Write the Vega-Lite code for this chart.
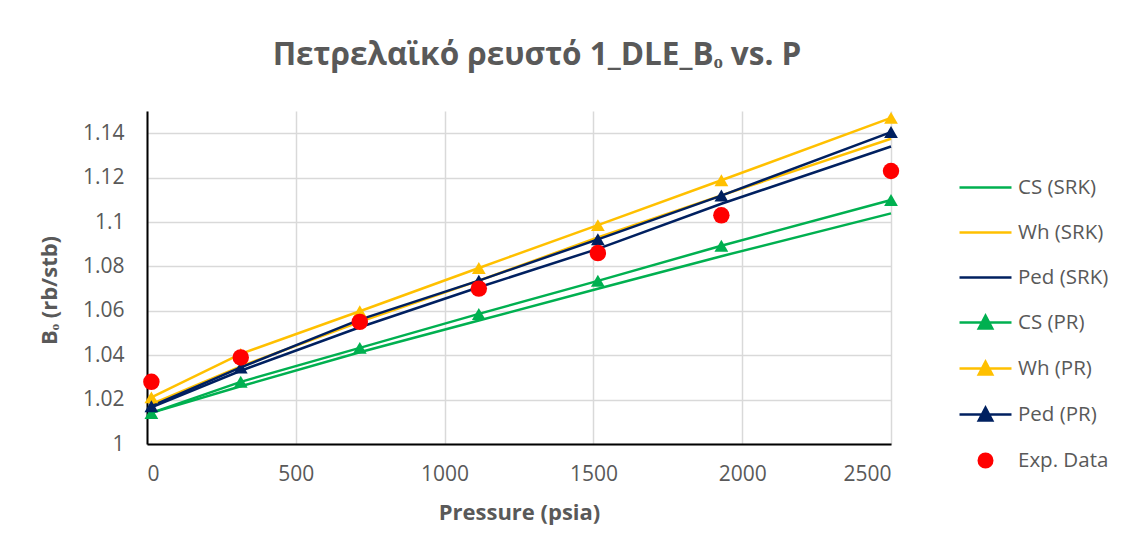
{
  "$schema": "https://vega.github.io/schema/vega-lite/v6.json",
  "width": 744,
  "height": 333,
  "autosize": "none",
  "padding": {"left": 147, "top": 111, "right": 233, "bottom": 114},
  "background": "white",
  "config": {
    "view": {"stroke": null},
    "font": "Open Sans"
  },
  "title": {
    "text": "Πετρελαϊκό ρευστό 1_DLE_Bₒ vs. P",
    "font": "Open Sans",
    "fontSize": 31.5,
    "fontWeight": "bold",
    "color": "#595959",
    "anchor": "middle",
    "frame": "group",
    "dx": 18,
    "offset": 40
  },
  "data": {
    "values": [
      {"P": 14.7, "B": 1.0140, "series": "CS (SRK)"},
      {"P": 315, "B": 1.0260, "series": "CS (SRK)"},
      {"P": 715, "B": 1.0413, "series": "CS (SRK)"},
      {"P": 1115, "B": 1.0556, "series": "CS (SRK)"},
      {"P": 1515, "B": 1.0699, "series": "CS (SRK)"},
      {"P": 1930, "B": 1.0846, "series": "CS (SRK)"},
      {"P": 2500, "B": 1.1039, "series": "CS (SRK)"},
      {"P": 14.7, "B": 1.0180, "series": "Wh (SRK)"},
      {"P": 315, "B": 1.0350, "series": "Wh (SRK)"},
      {"P": 715, "B": 1.0550, "series": "Wh (SRK)"},
      {"P": 1115, "B": 1.0736, "series": "Wh (SRK)"},
      {"P": 1515, "B": 1.0930, "series": "Wh (SRK)"},
      {"P": 1930, "B": 1.1120, "series": "Wh (SRK)"},
      {"P": 2500, "B": 1.1375, "series": "Wh (SRK)"},
      {"P": 14.7, "B": 1.0165, "series": "Ped (SRK)"},
      {"P": 315, "B": 1.0330, "series": "Ped (SRK)"},
      {"P": 715, "B": 1.0526, "series": "Ped (SRK)"},
      {"P": 1115, "B": 1.0706, "series": "Ped (SRK)"},
      {"P": 1515, "B": 1.0879, "series": "Ped (SRK)"},
      {"P": 1930, "B": 1.1082, "series": "Ped (SRK)"},
      {"P": 2500, "B": 1.1340, "series": "Ped (SRK)"},
      {"P": 14.7, "B": 1.0140, "series": "CS (PR)"},
      {"P": 315, "B": 1.0280, "series": "CS (PR)"},
      {"P": 715, "B": 1.0433, "series": "CS (PR)"},
      {"P": 1115, "B": 1.0586, "series": "CS (PR)"},
      {"P": 1515, "B": 1.0735, "series": "CS (PR)"},
      {"P": 1930, "B": 1.0893, "series": "CS (PR)"},
      {"P": 2500, "B": 1.1099, "series": "CS (PR)"},
      {"P": 14.7, "B": 1.0210, "series": "Wh (PR)"},
      {"P": 315, "B": 1.0406, "series": "Wh (PR)"},
      {"P": 715, "B": 1.0598, "series": "Wh (PR)"},
      {"P": 1115, "B": 1.0793, "series": "Wh (PR)"},
      {"P": 1515, "B": 1.0986, "series": "Wh (PR)"},
      {"P": 1930, "B": 1.1188, "series": "Wh (PR)"},
      {"P": 2500, "B": 1.1469, "series": "Wh (PR)"},
      {"P": 14.7, "B": 1.0170, "series": "Ped (PR)"},
      {"P": 315, "B": 1.0345, "series": "Ped (PR)"},
      {"P": 715, "B": 1.0560, "series": "Ped (PR)"},
      {"P": 1115, "B": 1.0736, "series": "Ped (PR)"},
      {"P": 1515, "B": 1.0922, "series": "Ped (PR)"},
      {"P": 1930, "B": 1.1119, "series": "Ped (PR)"},
      {"P": 2500, "B": 1.1405, "series": "Ped (PR)"},
      {"P": 14.7, "B": 1.028, "series": "Exp. Data"},
      {"P": 315, "B": 1.039, "series": "Exp. Data"},
      {"P": 715, "B": 1.055, "series": "Exp. Data"},
      {"P": 1115, "B": 1.070, "series": "Exp. Data"},
      {"P": 1515, "B": 1.086, "series": "Exp. Data"},
      {"P": 1930, "B": 1.103, "series": "Exp. Data"},
      {"P": 2500, "B": 1.123, "series": "Exp. Data"}
    ]
  },
  "encoding": {
    "x": {
      "field": "P",
      "type": "quantitative",
      "scale": {"domain": [0, 2500], "nice": false, "zero": false},
      "axis": {
        "title": "Pressure (psia)",
        "values": [0, 500, 1000, 1500, 2000, 2500],
        "format": "d",
        "grid": true,
        "gridColor": "#d9d9d9",
        "gridWidth": 1.5,
        "domainColor": "#000000",
        "domainWidth": 2,
        "ticks": false,
        "labelPadding": 19,
        "labelFont": "Open Sans",
        "labelFontSize": 21,
        "labelColor": "#595959",
        "titleFont": "Open Sans",
        "titleFontSize": 22,
        "titleFontWeight": "bold",
        "titleColor": "#595959",
        "titlePadding": 18
      }
    },
    "y": {
      "field": "B",
      "type": "quantitative",
      "scale": {"domain": [1, 1.15], "nice": false, "zero": false},
      "axis": {
        "title": "Bₒ (rb/stb)",
        "values": [1, 1.02, 1.04, 1.06, 1.08, 1.1, 1.12, 1.14],
        "format": "~g",
        "grid": true,
        "gridColor": "#d9d9d9",
        "gridWidth": 1.5,
        "domainColor": "#000000",
        "domainWidth": 2,
        "ticks": false,
        "labelPadding": 23,
        "labelFont": "Open Sans",
        "labelFontSize": 21,
        "labelColor": "#595959",
        "titleFont": "Open Sans",
        "titleFontSize": 22,
        "titleFontWeight": "bold",
        "titleColor": "#595959",
        "titlePadding": 21,
        "titleY": 179
      }
    }
  },
  "layer": [
    {
      "mark": {"type": "point", "filled": true, "opacity": 1},
      "transform": [{"filter": "false"}],
      "encoding": {
        "color": {
          "field": "series",
          "type": "nominal",
          "scale": {
            "domain": ["CS (SRK)", "Wh (SRK)", "Ped (SRK)", "CS (PR)", "Wh (PR)", "Ped (PR)", "Exp. Data"],
            "range": ["#00B050", "#FFC000", "#002060", "#00B050", "#FFC000", "#002060", "#FF0000"]
          },
          "legend": {
            "title": null,
            "orient": "none",
            "legendX": 822,
            "legendY": 60,
            "symbolSize": 900,
            "symbolStrokeWidth": 2.5,
            "rowPadding": 18,
            "labelOffset": 16,
            "labelFont": "Open Sans",
            "labelFontSize": 20.5,
            "labelColor": "#595959",
            "padding": 0,
            "encode": {
              "symbols": {
                "update": {
                  "stroke": {"scale": "color", "field": "value"},
                  "strokeWidth": {"value": 2.5},
                  "opacity": {"value": 1}
                }
              }
            }
          }
        },
        "shape": {
          "field": "series",
          "type": "nominal",
          "scale": {
            "domain": ["CS (SRK)", "Wh (SRK)", "Ped (SRK)", "CS (PR)", "Wh (PR)", "Ped (PR)", "Exp. Data"],
            "range": [
              "M-1.733,0L1.733,0",
              "M-1.733,0L1.733,0",
              "M-1.733,0L1.733,0",
              "M-1.733,0L1.733,0M-0.45,0.4L0,-0.45L0.45,0.4Z",
              "M-1.733,0L1.733,0M-0.45,0.4L0,-0.45L0.45,0.4Z",
              "M-1.733,0L1.733,0M-0.45,0.4L0,-0.45L0.45,0.4Z",
              "M-0.45,0A0.45,0.45,0,1,0,0.45,0A0.45,0.45,0,1,0,-0.45,0Z"
            ]
          },
          "legend": {
            "title": null,
            "orient": "none",
            "legendX": 822,
            "legendY": 60,
            "symbolSize": 900,
            "symbolStrokeWidth": 2.5,
            "rowPadding": 18,
            "labelOffset": 16,
            "labelFont": "Open Sans",
            "labelFontSize": 20.5,
            "labelColor": "#595959",
            "padding": 0
          }
        }
      }
    },
    {
      "mark": {"type": "line", "strokeWidth": 2.5},
      "transform": [{"filter": "datum.series !== 'Exp. Data'"}],
      "encoding": {
        "stroke": {
          "field": "series",
          "type": "nominal",
          "scale": {
            "domain": ["CS (SRK)", "Wh (SRK)", "Ped (SRK)", "CS (PR)", "Wh (PR)", "Ped (PR)", "Exp. Data"],
            "range": ["#00B050", "#FFC000", "#002060", "#00B050", "#FFC000", "#002060", "#FF0000"]
          },
          "legend": null
        },
        "detail": {"field": "series", "type": "nominal"}
      }
    },
    {
      "mark": {"type": "point", "shape": "triangle-up", "filled": true, "size": 190, "opacity": 1},
      "transform": [{"filter": "indexof(datum.series, '(PR)') >= 0"}],
      "encoding": {
        "fill": {
          "field": "series",
          "type": "nominal",
          "scale": {
            "domain": ["CS (SRK)", "Wh (SRK)", "Ped (SRK)", "CS (PR)", "Wh (PR)", "Ped (PR)", "Exp. Data"],
            "range": ["#00B050", "#FFC000", "#002060", "#00B050", "#FFC000", "#002060", "#FF0000"]
          },
          "legend": null
        }
      }
    },
    {
      "mark": {"type": "point", "shape": "circle", "filled": true, "size": 270, "opacity": 1, "color": "#FF0000"},
      "transform": [{"filter": "datum.series === 'Exp. Data'"}],
      "encoding": {}
    }
  ]
}
